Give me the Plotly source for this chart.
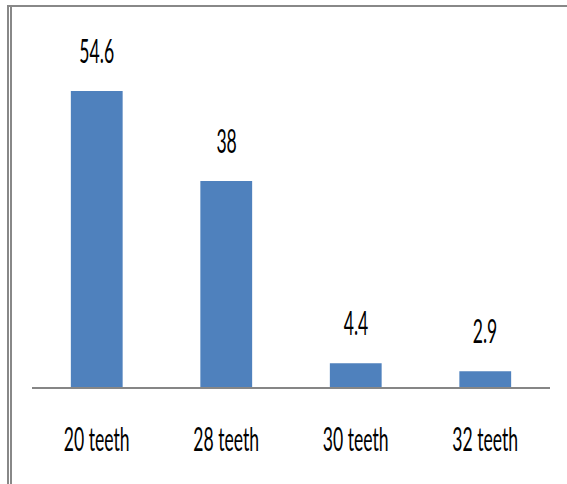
import plotly.graph_objects as go

categories = ["20 teeth", "28 teeth", "30 teeth", "32 teeth"]
values = [54.6, 38, 4.4, 2.9]
value_labels = ["54.6", "38", "4.4", "2.9"]

W, H = 567, 484
L, R, T, B = 32, 17, 30, 97
pw, ph = W - L - R, H - T - B

def px_x(p):
    return (p - L) / pw

def px_y(p):
    return (H - B - p) / ph

FONT = "Lato, Liberation Sans, sans-serif"
FS = 20

fig = go.Figure()
fig.add_trace(go.Bar(
    x=categories, y=values,
    marker=dict(color="#4F81BD", line=dict(width=0)),
    hoverinfo="x+y",
))

for c, v, t in zip(categories, values, value_labels):
    fig.add_annotation(x=c, y=v, text=t, showarrow=False, yanchor="middle",
                       yshift=41, font=dict(family=FONT, size=FS, color="#000000"))

line_col = "#888888"
shapes = [
    dict(type="line", xref="paper", yref="paper", x0=px_x(7), x1=px_x(567),
         y0=px_y(6), y1=px_y(6), line=dict(color=line_col, width=2)),
    dict(type="line", xref="paper", yref="paper", x0=px_x(8), x1=px_x(8),
         y0=px_y(5), y1=px_y(484), line=dict(color=line_col, width=2)),
    dict(type="line", xref="paper", yref="paper", x0=px_x(11), x1=px_x(11),
         y0=px_y(7), y1=px_y(484), line=dict(color=line_col, width=2)),
]

fig.update_layout(
    width=W, height=H,
    margin=dict(l=L, r=R, t=T, b=B, pad=0),
    paper_bgcolor="white", plot_bgcolor="white",
    bargap=0.6,
    showlegend=False,
    shapes=shapes,
    xaxis=dict(showline=True, linecolor="#868686", linewidth=2, ticks="outside",
               ticklen=33, tickcolor="rgba(0,0,0,0)", showgrid=False, zeroline=False,
               tickfont=dict(family=FONT, size=FS, color="#000000"), fixedrange=True),
    yaxis=dict(range=[0, 65.86], visible=False, showgrid=False, zeroline=False, fixedrange=True),
)

post_js = """
document.body.style.margin = '0';
var gd = document.getElementById('{plot_id}');
var els = gd.querySelectorAll('.xtick text, .annotation-text');
els.forEach(function(el) {
  var b = el.getBBox();
  var cx = b.x + b.width / 2, cy = b.y + b.height / 2;
  var t = el.getAttribute('transform') || '';
  el.setAttribute('transform', t + ' translate(' + cx + ',' + cy + ') scale(0.88,1.65) translate(' + (-cx) + ',' + (-cy) + ')');
});
"""

fig.write_html("out.html", config={"displayModeBar": False}, post_script=post_js)
